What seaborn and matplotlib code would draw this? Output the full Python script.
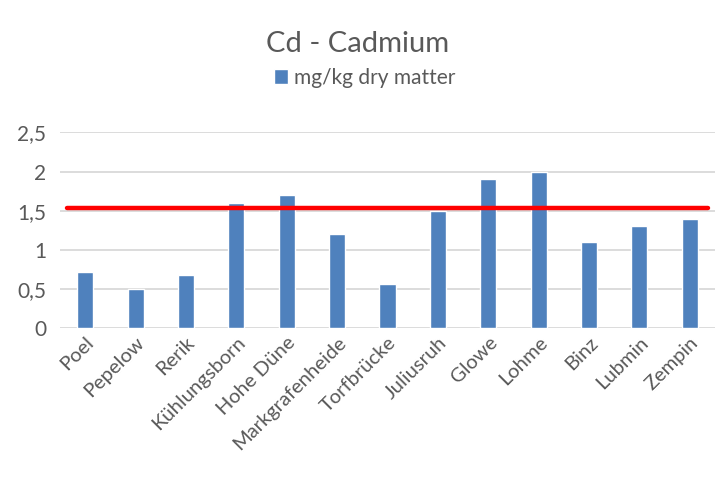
import numpy as np
import pandas as pd
import seaborn as sns
import matplotlib.pyplot as plt
from matplotlib.patches import Patch
from matplotlib.ticker import FuncFormatter

# Chart data
sites = ['Poel', 'Pepelow', 'Rerik', 'Kühlungsborn', 'Hohe Düne', 'Markgrafenheide',
         'Torfbrücke', 'Juliusruh', 'Glowe', 'Lohme', 'Binz', 'Lubmin', 'Zempin']
cadmium = [0.72, 0.50, 0.68, 1.60, 1.70, 1.20, 0.57, 1.50, 1.90, 2.00, 1.10, 1.30, 1.40]
limit_value = 1.54
series_name = 'mg/kg dry matter'
y_ticks = [0, 0.5, 1, 1.5, 2, 2.5]

bar_color = '#4F81BD'
text_color = '#595959'
grid_color = '#D9D9D9'

sns.set_style('white')
plt.rcParams['font.family'] = ['Lato', 'DejaVu Sans']

df = pd.DataFrame({'site': sites, 'value': cadmium})

fig = plt.figure(figsize=(7.15, 4.8), dpi=100)
ax = fig.add_axes([0.084, 0.316, 0.916, 0.408])

sns.barplot(data=df, x='site', y='value', color=bar_color, width=0.32,
            saturation=1, ax=ax, zorder=3)

# reference line
ax.axhline(limit_value, xmin=0.01, xmax=0.99, color='#FF0000', linewidth=3.2, zorder=4)

ax.set_ylim(0, 2.5)
ax.set_yticks(y_ticks)
ax.yaxis.set_major_formatter(FuncFormatter(lambda v, p: f'{v:g}'.replace('.', ',')))
ax.grid(axis='y', color=grid_color, linewidth=1.3, zorder=0)
ax.set_axisbelow(True)
for s in ax.spines.values():
    s.set_visible(False)
ax.tick_params(axis='both', length=0, colors=text_color, labelsize=15, pad=10)
ax.tick_params(axis='x', labelsize=14.5, pad=4)
plt.setp(ax.get_xticklabels(), rotation=45, ha='right', rotation_mode='anchor')
ax.set_xlabel('')
ax.set_ylabel('')

fig.suptitle('Cd - Cadmium', y=0.935, fontsize=21, color=text_color)
fig.legend(handles=[Patch(facecolor=bar_color, label=series_name)],
           loc='center', bbox_to_anchor=(0.51, 0.838), frameon=False,
           fontsize=15, labelcolor=text_color, handlelength=0.7, handleheight=0.7,
           handletextpad=0.3)

fig.savefig('out.png', dpi=100)
